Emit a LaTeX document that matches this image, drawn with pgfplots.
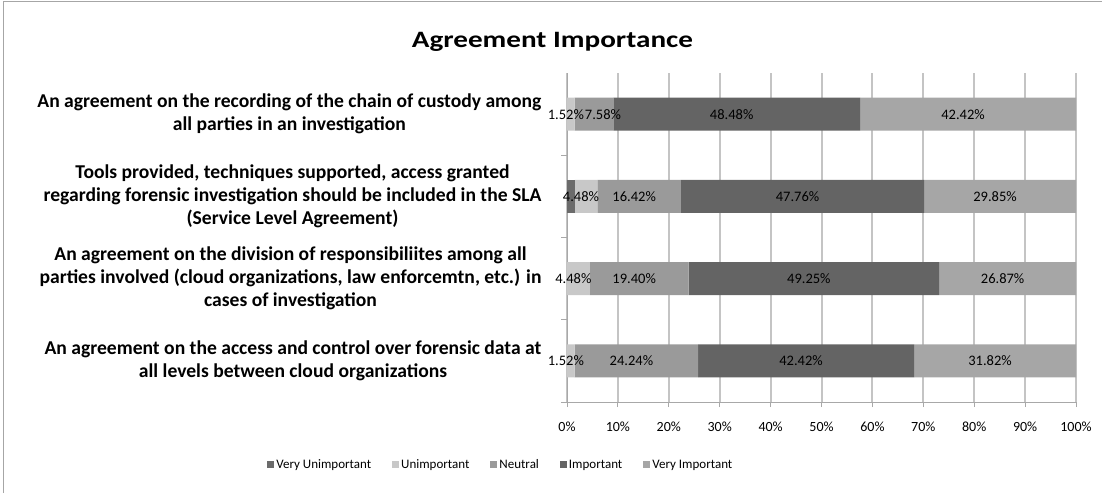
\documentclass[border=0pt]{standalone}
\usepackage{pgfplots}
\pgfplotsset{compat=1.18}
\usepackage{pgfplotstable}
\usepackage{fontspec}
\setmainfont{Carlito}
\newfontfamily\titlefont[FakeStretch=1.24]{Carlito}
\definecolor{cVU}{HTML}{6B6B6B}
\definecolor{cU}{HTML}{C8C8C8}
\definecolor{cN}{HTML}{9A9A9A}
\definecolor{cI}{HTML}{646464}
\definecolor{cVI}{HTML}{A6A6A6}
\definecolor{gridc}{HTML}{C4C4C4}
\definecolor{axc}{HTML}{A8A8A8}
\pgfplotstableread{
idx vu u n i vi noff
3 0 1.52 7.58 48.48 42.42 14
2 1.49 4.48 16.42 47.76 29.85 0
1 0 4.48 19.40 49.25 26.87 0
0 0 1.52 24.24 42.42 31.82 0
}\datatable
\pgfplotsset{
  lbl/.style={
    point meta=explicit,
    nodes near coords={\pgfmathfloatifflags{\pgfplotspointmeta}{0}{}{\pgfmathprintnumber[fixed,fixed zerofill,precision=2]{\pgfplotspointmeta}\%}},
    every node near coord/.append style={anchor=center, xshift=-5pt, font=\fontsize{14.5}{16}\selectfont, text=black, inner sep=0pt},
  },
}
\begin{document}
\begin{tikzpicture}
\useasboundingbox (0pt,0pt) rectangle (1102pt,-493pt);
\draw[gray!70, line width=1pt] (3pt,-493pt) -- (3pt,-1pt) -- (1102pt,-1pt);
\begin{axis}[
  at={(567pt,-402pt)}, anchor=south west,
  scale only axis, width=509pt, height=329pt,
  xbar stacked, bar width=33pt,
  xmin=0, xmax=100, ymin=-0.5, ymax=3.5,
  axis x line*=bottom, axis y line*=left,
  axis line style={draw=axc, line width=1pt},
  xtick={0,10,...,100},
  xticklabel={\pgfmathprintnumber{\tick}\%},
  xticklabel style={font=\fontsize{14}{16}\selectfont, yshift=-11pt},
  /pgf/number format/assume math mode=true,
  xmajorgrids, major grid style={draw=gridc, line width=2pt},
  tick align=outside, major tick length=5pt,
  xtick style={draw=axc, line width=1pt},
  ytick={0,1,2,3},
  ytick style={draw=none},
  extra y ticks={-0.5,0.5,1.5,2.5},
  extra y tick labels={},
  extra y tick style={ytick style={draw=axc, line width=1pt}, major tick length=6pt},
  yticklabels={
    {An agreement on the access and control over forensic data at\\all levels between cloud organizations},
    {An agreement on the division of responsibiliites among all\\parties involved (cloud organizations, law enforcemtn, etc.) in\\cases of investigation},
    {Tools provided, techniques supported, access granted\\regarding forensic investigation should be included in the SLA\\(Service Level Agreement)},
    {An agreement on the recording of the chain of custody among\\all parties in an investigation}},
  yticklabel style={align=center, font=\bfseries\fontsize{19.6}{23}\selectfont, xshift=-17pt},
  title={Agreement Importance},
  title style={at={(-0.0285,1.058)}, anchor=base, font=\titlefont\bfseries\fontsize{23.5}{28}\selectfont},
  legend style={at={(-0.13,-0.1915)}, anchor=center, legend columns=-1, draw=none,
    font=\fontsize{13}{15}\selectfont,
    /tikz/every even column/.append style={column sep=19pt},
    nodes={inner xsep=2pt}},
  legend image code/.code={\draw[#1, draw=none] (0pt,-3pt) rectangle (7pt,4pt);},
  clip=false,
]
\addplot[fill=cVU, draw=none] table[x=vu, y=idx] {\datatable};
\addplot[fill=cU, draw=none, lbl=u] table[x=u, y=idx, meta=u] {\datatable};
\addplot[fill=cN, draw=none, lbl=n,
  visualization depends on={\thisrow{noff} \as \noff},
  every node near coord/.append style={xshift=\noff pt}] table[x=n, y=idx, meta=n] {\datatable};
\addplot[fill=cI, draw=none, lbl=i] table[x=i, y=idx, meta=i] {\datatable};
\addplot[fill=cVI, draw=none, lbl=vi] table[x=vi, y=idx, meta=vi] {\datatable};
\legend{Very Unimportant, Unimportant, Neutral, Important, Very Important}
\end{axis}
\end{tikzpicture}
\end{document}
